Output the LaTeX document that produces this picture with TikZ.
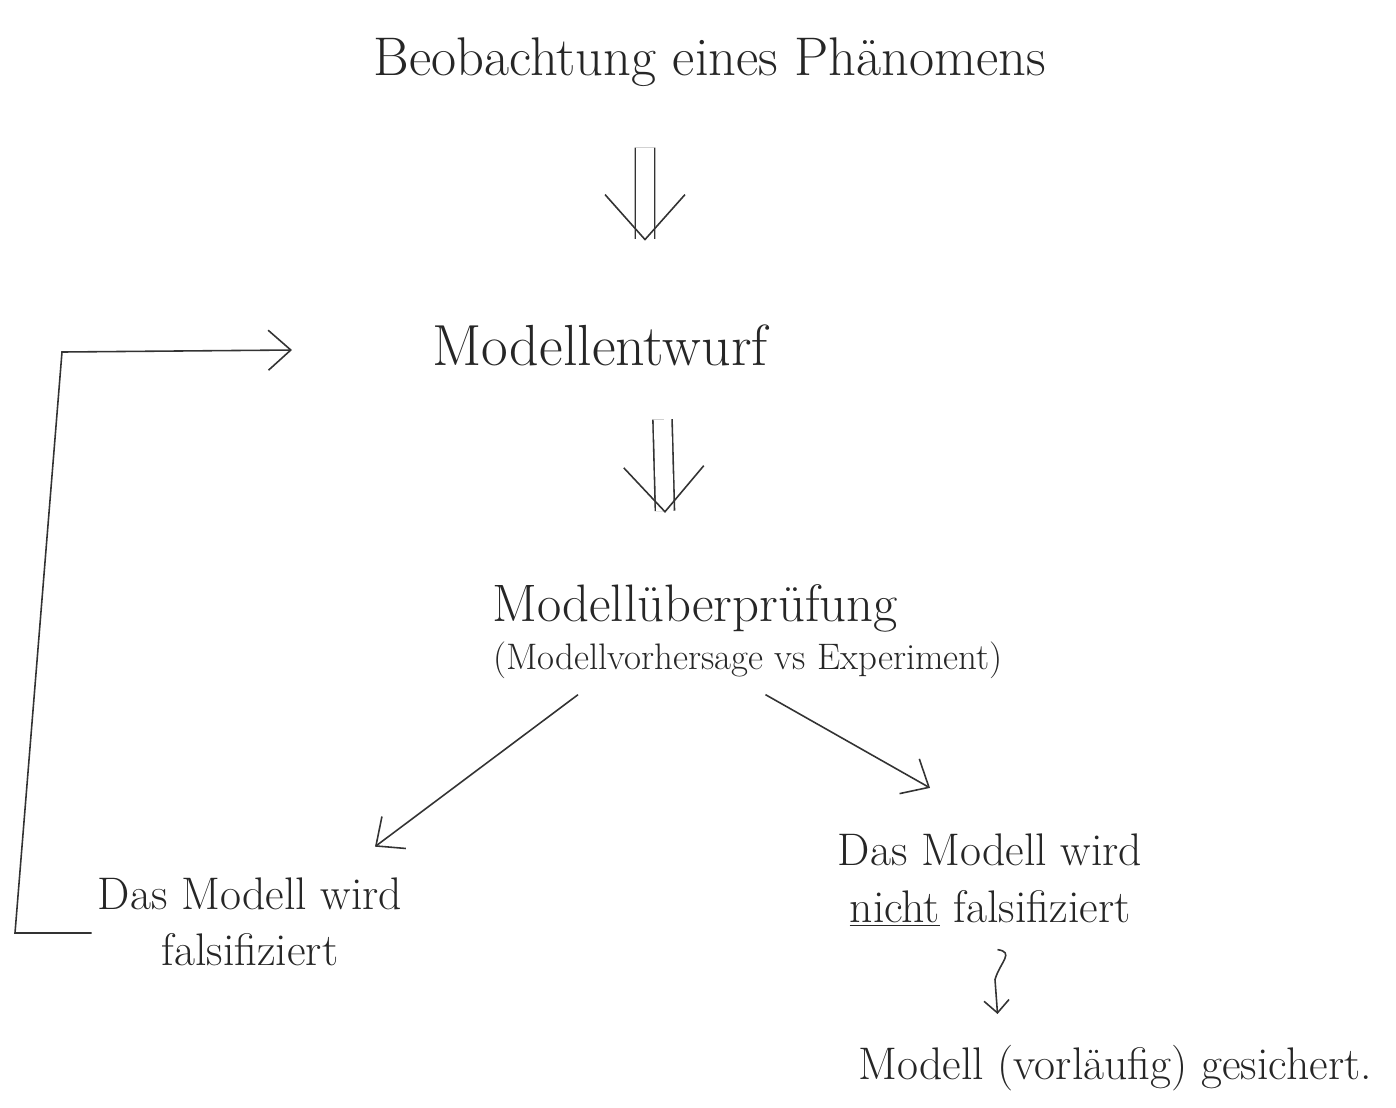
\documentclass[tikz,border=0pt]{standalone}
\usetikzlibrary{arrows.meta}

\tikzset{
  text=black!85,
  titel/.style={font=\fontsize{31}{37}\selectfont},
  gross/.style={font=\fontsize{33}{39}\selectfont},
  mittelgross/.style={font=\fontsize{30}{36}\selectfont},
  klein/.style={font=\fontsize{21}{25}\selectfont},
  mittel/.style={font=\fontsize{26}{32}\selectfont, align=center},
  pfeil/.style={draw=black!80, line width=0.9pt, -{Straight Barb[length=0.45cm,width=0.8cm]}},
  folgt/.style={draw=black!80, line width=0.9pt, double, double distance=10pt,
    -{Straight Barb[length=0.9cm,width=1.6cm,line width=0.9pt]}},
}

\begin{document}
\begin{tikzpicture}[x=0.02cm,y=-0.02cm]
  \useasboundingbox (0,0) rectangle (1396,1107);

  \node[titel] (obs) at (710,62) {Beobachtung eines Phänomens};
  \node[gross] (entw) at (600,345) {Modellentwurf};
  \node[mittelgross] (pruef) at (695,608) {Modellüberprüfung};
  \node[klein] (vorh) at (748,660) {(Modellvorhersage vs Experiment)};
  \node[mittel] (falsch) at (250,922) {Das Modell wird\\falsifiziert};
  \node[mittel] (nichtf) at (990,880) {Das Modell wird\\\underline{nicht} falsifiziert};
  \node[mittel] (gesich) at (1115,1068) {Modell (vorläufig) gesichert.};

  % Hauptweg
  \draw[folgt] ([xshift=-1.3cm,yshift=-1.1cm]obs.south) -- ([xshift=0.9cm,yshift=1.55cm]entw.north);
  \draw[folgt] ([xshift=1.25cm,yshift=-0.95cm]entw.south) -- ([xshift=-0.6cm,yshift=1.3cm]pruef.north);

  % Verzweigung
  \draw[pfeil] ([xshift=-3.4cm,yshift=-0.2cm]vorh.south) -- ([xshift=2.5cm,yshift=0.5cm]falsch.north);
  \draw[pfeil] ([xshift=0.35cm,yshift=-0.2cm]vorh.south) -- ([xshift=-1.2cm,yshift=0.8cm]nichtf.north);

  % zurueck zum Entwurf
  \coordinate (eckeU) at (15,933);
  \coordinate (eckeO) at (62,352);
  \coordinate (ziel) at (292,350);
  \draw[pfeil] (falsch.west |- eckeU) -- (eckeU) -- (eckeO) -- (ziel);

  \draw[pfeil, -{Straight Barb[length=0.25cm,width=0.5cm]}]
    ([xshift=0.15cm,yshift=-0.35cm]nichtf.south) .. controls +(0.35cm,-0.05cm) and +(0.1cm,0.35cm) ..
    ([xshift=0.1cm,yshift=-0.95cm]nichtf.south) -- ([xshift=-2.35cm,yshift=0.5cm]gesich.north);
\end{tikzpicture}
\end{document}
